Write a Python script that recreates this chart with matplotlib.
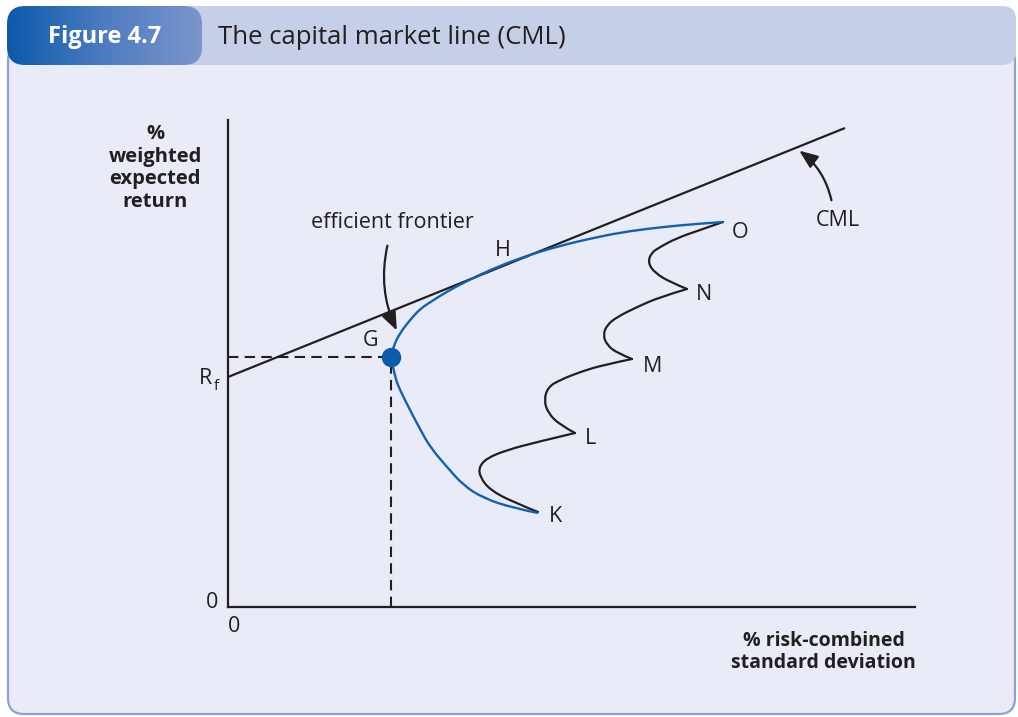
import matplotlib
matplotlib.use("Agg")
import matplotlib.pyplot as plt
import numpy as np
from matplotlib.patches import FancyBboxPatch, FancyArrowPatch, PathPatch
from matplotlib.path import Path
from matplotlib.colors import LinearSegmentedColormap

plt.rcParams['font.family'] = ['Open Sans', 'DejaVu Sans']

# ---------------- data (units: offset from origin of the axes) ----------------
cml_x = [0, 617]
cml_y = [230, 479]
g_point = (163, 250)

# efficient frontier (blue), from K up through G to O
frontier_x = [310, 285, 255, 235, 219, 202, 192, 182, 172, 168, 165, 163,
              166, 172, 182, 192, 204, 220, 239, 262, 292, 327, 369, 402, 435, 467, 495]
frontier_y = [94, 99, 109, 122, 140, 160, 178, 197, 217, 227, 240, 250,
              262, 274, 287, 298, 306, 316, 326, 337, 349, 360, 370, 376, 380, 383, 385]

# wiggly portfolio curve K-L-M-N-O (segments joined at L, M, N)
wiggle_x = [310, 285, 262, 252, 251, 259, 279, 309, 347,
            332, 320, 316, 320, 332, 352, 375, 404,
            389, 379, 375, 379, 389, 409, 432, 459,
            442, 427, 420, 423, 432, 449, 472, 495]
wiggle_y = [95, 105, 117, 130, 140, 149, 157, 165, 174,
            182, 194, 207, 220, 227, 235, 242, 248,
            254, 262, 272, 282, 290, 300, 310, 318,
            325, 334, 344, 354, 360, 369, 377, 385]
cusp_index = [0, 8, 16, 24, 32]

point_labels = ['K', 'L', 'M', 'N', 'O']
point_label_pos = [(556, 517), (591, 438), (653, 367), (704, 295), (740, 233)]


def smooth_path(xs, ys):
    pts = list(zip(xs, ys))
    verts = [pts[0]]
    codes = [Path.MOVETO]
    n = len(pts) - 1
    for i in range(1, n - 1):
        mid = ((pts[i][0] + pts[i + 1][0]) / 2, (pts[i][1] + pts[i + 1][1]) / 2)
        verts += [pts[i], mid]
        codes += [Path.CURVE3, Path.CURVE3]
    verts += [pts[n - 1], pts[n]]
    codes += [Path.CURVE3, Path.CURVE3]
    return Path(verts, codes)


W, H = 1018, 717
fig = plt.figure(figsize=(W / 100, H / 100), dpi=100)
fig.patch.set_facecolor('white')

bg = fig.add_axes([0, 0, 1, 1])
bg.set_xlim(0, W)
bg.set_ylim(H, 0)
bg.axis('off')
bg.set_zorder(0)

panel = FancyBboxPatch((8, 45), 1007, 669, boxstyle="round,pad=0,rounding_size=16",
                       facecolor='#e9ebf6', edgecolor='#8da2d2', linewidth=1.6)
bg.add_patch(panel)
band = FancyBboxPatch((150, 6), 866, 59, boxstyle="round,pad=0,rounding_size=14",
                      facecolor='#c5cfe8', edgecolor='none')
bg.add_patch(band)
tab = FancyBboxPatch((7, 6), 195, 59, boxstyle="round,pad=0,rounding_size=18",
                     facecolor='none', edgecolor='none')
bg.add_patch(tab)
grad = np.linspace(0, 1, 256).reshape(1, -1)
cmap = LinearSegmentedColormap.from_list('tab', ['#0c5aa9', '#4d7cc0', '#7b95cc'])
im = bg.imshow(grad, extent=(7, 202, 65, 6), cmap=cmap, aspect='auto', zorder=2)
im.set_clip_path(tab)

bg.text(105, 37, 'Figure 4.7', color='white', fontsize=17, fontweight='bold',
        ha='center', va='center', zorder=3)
bg.text(218, 37, 'The capital market line (CML)', color='#231f20', fontsize=18.5,
        ha='left', va='center', zorder=3)

# ---------------- main axes ----------------
x0, y0, x1, y1 = 228, 607, 915, 120
ax = fig.add_axes([x0 / W, (H - y0) / H, (x1 - x0) / W, (y0 - y1) / H])
ax.set_zorder(1)
ax.patch.set_alpha(0)
ax.set_xlim(0, x1 - x0)
ax.set_ylim(0, y0 - y1)
for s in ['top', 'right']:
    ax.spines[s].set_visible(False)
for s in ['left', 'bottom']:
    ax.spines[s].set_color('#231f20')
    ax.spines[s].set_linewidth(1.6)
ax.set_xticks([])
ax.set_yticks([])

ink = '#231f20'
blue = '#1062b0'
ax.plot(cml_x, cml_y, color=ink, lw=1.6, solid_capstyle='butt')
ax.plot([0, g_point[0]], [g_point[1], g_point[1]], color=ink, lw=1.5, ls=(0, (5, 3)))
ax.plot([g_point[0], g_point[0]], [0, g_point[1]], color=ink, lw=1.5, ls=(0, (5, 3)))
for a, b in zip(cusp_index[:-1], cusp_index[1:]):
    ax.add_patch(PathPatch(smooth_path(wiggle_x[a:b + 1], wiggle_y[a:b + 1]),
                           facecolor='none', edgecolor=ink, lw=1.6, capstyle='round'))
ax.add_patch(PathPatch(smooth_path(frontier_x, frontier_y), facecolor='none',
                       edgecolor=blue, lw=1.7, zorder=3))
ax.plot([g_point[0]], [g_point[1]], 'o', color='#0b5cab', markersize=13, zorder=5)

# ---------------- labels ----------------
fs = 15.5
for lab, (px, py) in zip(point_labels, point_label_pos):
    bg.text(px, py, lab, fontsize=fs, color=ink, ha='center', va='center', zorder=3)
bg.text(503, 250, 'H', fontsize=fs, color=ink, ha='center', va='center', zorder=3)
bg.text(371, 340, 'G', fontsize=fs, color=ink, ha='center', va='center', zorder=3)
bg.text(206, 379, 'R', fontsize=fs, color=ink, ha='center', va='center', zorder=3)
bg.text(216, 387, 'f', fontsize=11, color=ink, ha='center', va='center', zorder=3)
bg.text(838, 220, 'CML', fontsize=fs, color=ink, ha='center', va='center', zorder=3)
bg.text(392, 222, 'efficient frontier', fontsize=fs, color=ink, ha='center', va='center', zorder=3)
bg.text(212, 603, '0', fontsize=fs, color=ink, ha='center', va='center', zorder=3)
bg.text(234, 627, '0', fontsize=fs, color=ink, ha='center', va='center', zorder=3)
bg.text(155, 168, '%\nweighted\nexpected\nreturn', fontsize=14.5, fontweight='bold', color=ink,
        ha='center', va='center', linespacing=1.17, zorder=3)
bg.text(916, 652, '% risk-combined\nstandard deviation', fontsize=14, fontweight='bold', color=ink,
        ha='right', va='center', linespacing=1.17, multialignment='center', zorder=3)

# arrows
a1 = FancyArrowPatch((388, 243), (398, 333), connectionstyle='arc3,rad=0.18',
                     arrowstyle='-|>,head_length=0.7,head_width=0.28', mutation_scale=16,
                     color=ink, lw=1.6, zorder=4)
bg.add_patch(a1)
a2 = FancyArrowPatch((832, 203), (797, 149), connectionstyle='arc3,rad=0.2',
                     arrowstyle='-|>,head_length=0.7,head_width=0.28', mutation_scale=16,
                     color=ink, lw=1.6, zorder=4)
bg.add_patch(a2)

fig.savefig('out.png', dpi=100, facecolor='white')
